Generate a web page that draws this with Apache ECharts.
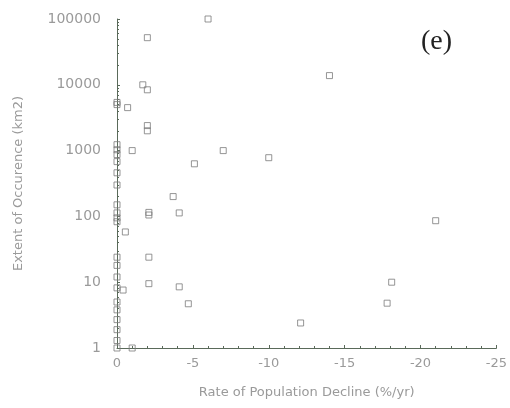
<!DOCTYPE html>
<html>
<head>
<meta charset="utf-8">
<script src="https://cdn.jsdelivr.net/npm/echarts@6/dist/echarts.min.js"></script>
<style>
html,body{margin:0;padding:0;background:#fff;}
#chart{width:510px;height:408px;}
</style>
</head>
<body>
<div id="chart"></div>
<script>
// Rate of population decline (%/yr)
const declineRate = [
  0, 0, 0, 0, 0, 0, 0, 0, 0, 0, 0, 0, 0, 0, 0, 0, 0, 0, 0, 0, 0, 0,
  -6, -2, -1.7, -2, -0.7, -2, -2, -1, -7, -5.1, -3.7, -10, -14, -21,
  -18.1, -17.8, -12.1, -2.1, -2.1, -4.1, -0.55, -2.1, -2.1, -4.1, -4.7, -0.4, -1
];
// Extent of occurrence (km2)
const extent = [
  5000, 5400, 1230, 1030, 870, 680, 460, 300, 150, 113, 95, 83, 24, 18, 12, 8.2, 5, 3.8, 2.7, 1.9, 1.3, 1,
  100000, 52000, 10000, 8400, 4500, 2400, 2000, 1000, 1000, 630, 200, 780, 13800, 86,
  10, 4.8, 2.4, 115, 105, 113, 58, 24, 9.5, 8.5, 4.7, 7.6, 1
];
const yTickLabels = ['1', '10', '100', '1000', '10000', '100000'];

const points = declineRate.map((x, i) => [x, extent[i]]);

const chart = echarts.init(document.getElementById('chart'), null, {renderer: 'canvas'});
const textColor = '#9a9a9a';
const axisColor = '#5a6a5a';
chart.setOption({
  animation: false,
  backgroundColor: '#ffffff',
  grid: {left: 117, right: 13, top: 19, bottom: 60},
  graphic: [{
    type: 'text', left: 421, top: 28,
    style: {text: '(e)', font: '28px "Liberation Serif", serif', fill: '#222'}
  }],
  xAxis: {
    type: 'value', min: -25, max: 0, interval: 5, inverse: true,
    name: 'Rate of Population Decline (%/yr)', nameLocation: 'middle', nameGap: 38,
    nameTextStyle: {color: textColor, fontSize: 13, fontFamily: 'DejaVu Sans'},
    axisLine: {show: true, onZero: false, lineStyle: {color: axisColor, width: 1}},
    axisTick: {show: true, inside: true, length: 3, lineStyle: {color: axisColor}},
    minorTick: {show: true, splitNumber: 5, length: 2, lineStyle: {color: axisColor}},
    axisLabel: {color: textColor, fontSize: 13, fontFamily: 'DejaVu Sans', margin: 9},
    splitLine: {show: false}
  },
  yAxis: {
    type: 'log', logBase: 10, min: 1, max: 100000,
    name: 'Extent of Occurence (km2)', nameLocation: 'middle', nameGap: 92,
    nameTextStyle: {color: textColor, fontSize: 13, fontFamily: 'DejaVu Sans'},
    axisLine: {show: true, lineStyle: {color: axisColor, width: 1}},
    axisTick: {show: true, inside: true, length: 3, lineStyle: {color: axisColor}},
    minorTick: {show: true, splitNumber: 9, length: 2, lineStyle: {color: axisColor}},
    axisLabel: {
      color: textColor, fontSize: 14, fontFamily: 'DejaVu Sans', margin: 16,
      formatter: function (v) {
        const k = Math.round(Math.log10(v));
        return yTickLabels[k] !== undefined ? yTickLabels[k] : '';
      }
    },
    splitLine: {show: false}
  },
  series: [{
    type: 'scatter',
    data: points,
    symbol: 'rect',
    symbolSize: 6,
    clip: false,
    itemStyle: {color: 'rgba(0,0,0,0)', borderColor: '#7a7a7a', borderWidth: 1}
  }]
});
</script>
</body>
</html>
